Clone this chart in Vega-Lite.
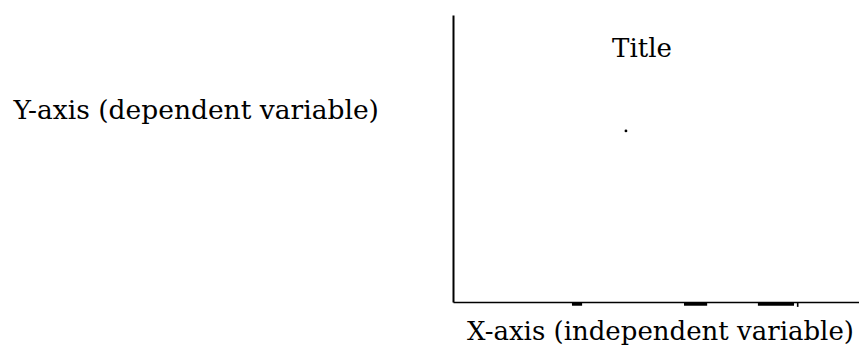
{
  "$schema": "https://vega.github.io/schema/vega-lite/v6.json",
  "width": 406,
  "height": 287,
  "autosize": {"type": "none"},
  "padding": {"left": 453, "top": 15, "right": 0, "bottom": 43},
  "background": "white",
  "config": {"view": {"stroke": null}, "font": "DejaVu Serif"},
  "title": {
    "text": "Title",
    "anchor": "middle",
    "frame": "group",
    "orient": "top",
    "offset": 0,
    "baseline": "alphabetic",
    "dy": 68,
    "dx": -14,
    "font": "DejaVu Serif",
    "fontSize": 26,
    "fontWeight": "normal",
    "color": "#000"
  },
  "layer": [
    {
      "data": {"values": [{"x": 4.26, "y": 5.96}]},
      "mark": {"type": "point", "filled": true, "size": 8, "color": "#000", "opacity": 1},
      "encoding": {
        "x": {
          "field": "x", "type": "quantitative",
          "scale": {"domain": [0, 10], "nice": false, "zero": false},
          "axis": {
            "domain": true, "domainColor": "#000", "domainWidth": 1.5,
            "ticks": false, "labels": false, "grid": false,
            "title": "X-axis (independent variable)",
            "titleAlign": "center", "titleBaseline": "alphabetic",
            "titleX": 207, "titleY": 37,
            "titleFont": "DejaVu Serif", "titleFontSize": 26, "titleFontWeight": "normal", "titleColor": "#000"
          }
        },
        "y": {
          "field": "y", "type": "quantitative",
          "scale": {"domain": [0, 10], "nice": false, "zero": false},
          "axis": {
            "domain": true, "domainColor": "#000", "domainWidth": 2,
            "ticks": false, "labels": false, "grid": false,
            "title": "Y-axis (dependent variable)",
            "titleAngle": 0, "titleAlign": "left", "titleBaseline": "alphabetic",
            "titleX": -440, "titleY": 103,
            "titleFont": "DejaVu Serif", "titleFontSize": 26.5, "titleFontWeight": "normal", "titleColor": "#000"
          }
        }
      }
    },
    {
      "data": {"values": [
        {"x1": 2.93, "x2": 3.18, "y1": 0, "y2": -0.13},
        {"x1": 5.69, "x2": 6.26, "y1": 0, "y2": -0.13},
        {"x1": 7.51, "x2": 8.40, "y1": 0, "y2": -0.13},
        {"x1": 8.47, "x2": 8.51, "y1": 0, "y2": -0.17}
      ]},
      "mark": {"type": "rect", "color": "#000"},
      "encoding": {
        "x": {
          "field": "x1", "type": "quantitative",
          "scale": {"domain": [0, 10], "nice": false, "zero": false},
          "axis": {
            "domain": true, "domainColor": "#000", "domainWidth": 1.5,
            "ticks": false, "labels": false, "grid": false,
            "title": "X-axis (independent variable)",
            "titleAlign": "center", "titleBaseline": "alphabetic",
            "titleX": 207, "titleY": 37,
            "titleFont": "DejaVu Serif", "titleFontSize": 26, "titleFontWeight": "normal", "titleColor": "#000"
          }
        },
        "x2": {"field": "x2"},
        "y": {
          "field": "y1", "type": "quantitative",
          "scale": {"domain": [0, 10], "nice": false, "zero": false},
          "axis": {
            "domain": true, "domainColor": "#000", "domainWidth": 2,
            "ticks": false, "labels": false, "grid": false,
            "title": "Y-axis (dependent variable)",
            "titleAngle": 0, "titleAlign": "left", "titleBaseline": "alphabetic",
            "titleX": -440, "titleY": 103,
            "titleFont": "DejaVu Serif", "titleFontSize": 26.5, "titleFontWeight": "normal", "titleColor": "#000"
          }
        },
        "y2": {"field": "y2"}
      }
    }
  ]
}
